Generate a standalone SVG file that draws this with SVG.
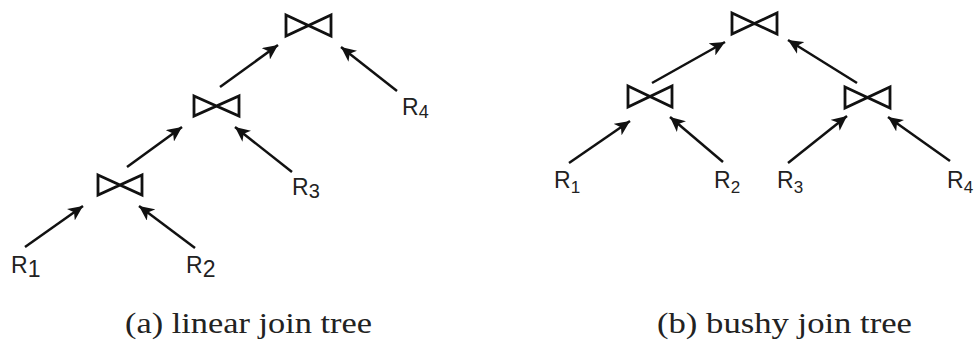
<svg xmlns="http://www.w3.org/2000/svg" width="977" height="345" viewBox="0 0 977 345">
<style>
.bt{fill:none;stroke:#111;stroke-width:2.8;stroke-linejoin:miter}
.ar{stroke:#111;stroke-width:2.5;fill:none;marker-end:url(#ah)}
.lb{font-family:"Liberation Sans",Arial,sans-serif;font-size:23px;fill:#222}
.cap{font-family:"Liberation Serif","Times New Roman",serif;font-size:30px;fill:#222}
</style>
<defs>
<marker id="ah" markerUnits="userSpaceOnUse" markerWidth="17" markerHeight="14" refX="15" refY="7" orient="auto">
<path d="M0,0 L15,7 L0,14 L4,7 Z" fill="#111"/>
</marker>
</defs>
<rect width="977" height="345" fill="#fff"/>
<g id="connectors">
<line class="ar" x1="25" y1="247" x2="83" y2="206"/>
<line class="ar" x1="195" y1="248" x2="139" y2="206"/>
<line class="ar" x1="127" y1="167" x2="182" y2="127"/>
<line class="ar" x1="292" y1="172" x2="235" y2="127"/>
<line class="ar" x1="220" y1="87" x2="278" y2="45"/>
<line class="ar" x1="397" y1="91" x2="341" y2="47"/>
<line class="ar" x1="652" y1="83" x2="725" y2="42"/>
<line class="ar" x1="857" y1="83" x2="788" y2="40"/>
<line class="ar" x1="569" y1="163" x2="630" y2="121"/>
<line class="ar" x1="723" y1="162" x2="670" y2="117"/>
<line class="ar" x1="788" y1="163" x2="847" y2="116"/>
<line class="ar" x1="950" y1="161" x2="888" y2="117"/>
</g>
<g id="a_join1"><path class="bt" d="M98,175 L142,195 L142,175 L98,195 Z"/></g>
<g id="a_join2"><path class="bt" d="M194,96 L239,116 L239,96 L194,116 Z"/></g>
<g id="a_join3"><path class="bt" d="M286,15 L331,36 L331,15 L286,36 Z"/></g>
<g id="a_R1"><text class="lb" x="11" y="273" font-size="24">R<tspan font-size="23" dy="4">1</tspan></text></g>
<g id="a_R2"><text class="lb" x="186" y="273" font-size="24">R<tspan font-size="23" dy="4">2</tspan></text></g>
<g id="a_R3"><text class="lb" x="292" y="195">R<tspan font-size="20" dy="3">3</tspan></text></g>
<g id="a_R4"><text class="lb" x="402" y="115">R<tspan font-size="18" dy="3">4</tspan></text></g>
<g id="b_join_top"><path class="bt" d="M732,13 L777,34 L777,13 L732,34 Z"/></g>
<g id="b_join_left"><path class="bt" d="M628,86 L672,107 L672,86 L628,107 Z"/></g>
<g id="b_join_right"><path class="bt" d="M845,87 L890,108 L890,87 L845,108 Z"/></g>
<g id="b_R1"><text class="lb" x="554" y="188">R<tspan font-size="17" dy="5">1</tspan></text></g>
<g id="b_R2"><text class="lb" x="714" y="188">R<tspan font-size="17" dy="5">2</tspan></text></g>
<g id="b_R3"><text class="lb" x="777" y="188">R<tspan font-size="17" dy="5">3</tspan></text></g>
<g id="b_R4"><text class="lb" x="947" y="188">R<tspan font-size="17" dy="5">4</tspan></text></g>
<g id="caption_a"><text class="cap" x="125" y="333" textLength="247" lengthAdjust="spacingAndGlyphs">(a) linear join tree</text></g>
<g id="caption_b"><text class="cap" x="657" y="333" textLength="255" lengthAdjust="spacingAndGlyphs">(b) bushy join tree</text></g>
</svg>
